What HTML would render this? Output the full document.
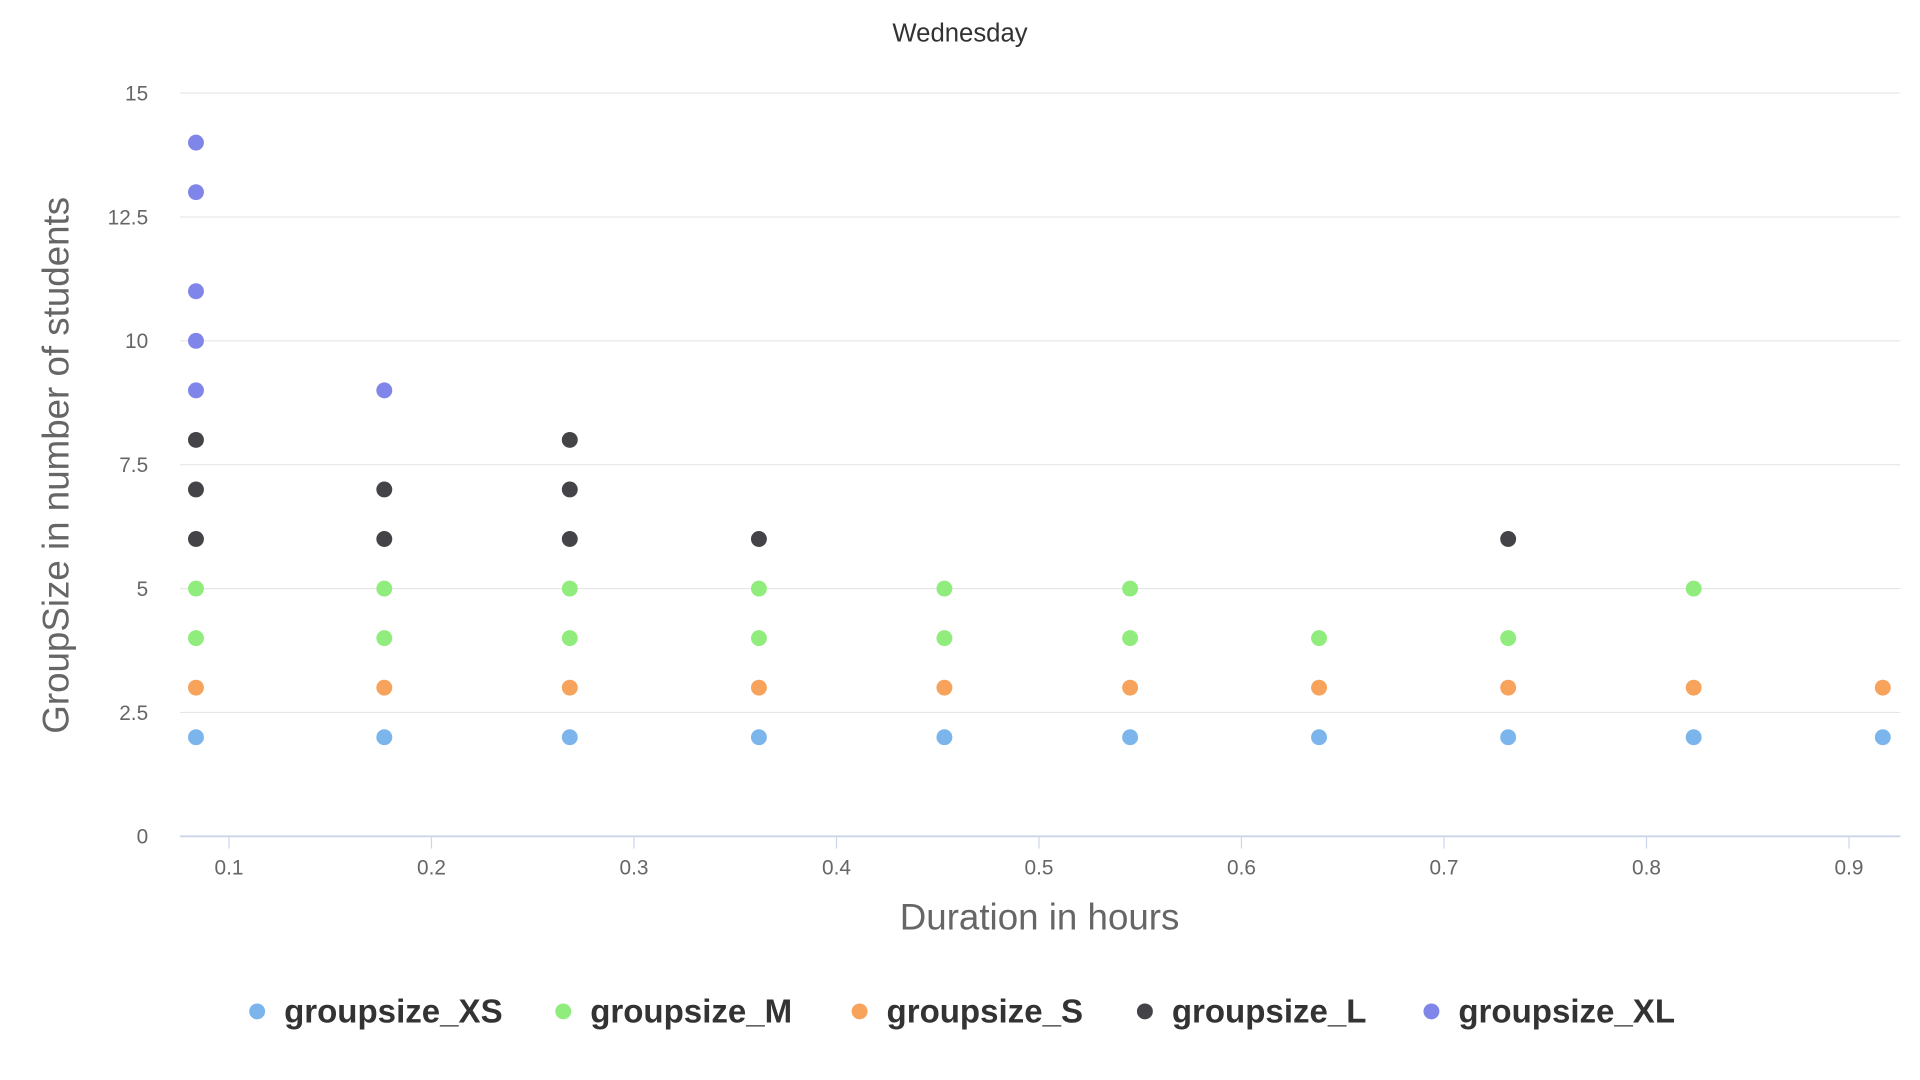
<!DOCTYPE html>
<html><head><meta charset="utf-8"><style>
html,body{margin:0;padding:0;background:#fff;width:1920px;height:1080px;overflow:hidden}
svg{display:block;font-family:"Liberation Sans","DejaVu Sans",sans-serif}
</style></head><body>
<svg id="chart" width="1920" height="1080" viewBox="0 0 1568 882" preserveAspectRatio="none">
<text x="784" y="34" text-anchor="middle" font-size="21" fill="#333">Wednesday</text>
<g id="grid"></g>
<g id="marks"></g>
<text transform="translate(56,380) rotate(-90)" text-anchor="middle" font-size="30" fill="#666">GroupSize in number of students</text>
<text x="849" y="759" text-anchor="middle" font-size="30" fill="#666">Duration in hours</text>
<g id="legend"></g>
</svg>
<script>
const xValues = [0.0837, 0.1767, 0.2683, 0.3617, 0.4533, 0.545, 0.6383, 0.7317, 0.8233, 0.9167];
const seriesNames = ["groupsize_XS","groupsize_M","groupsize_S","groupsize_L","groupsize_XL"];
const seriesColors = ["#7cb5ec","#90ed7d","#f7a35c","#434348","#8085e9"];
const xsPoints = [[0,2],[1,2],[2,2],[3,2],[4,2],[5,2],[6,2],[7,2],[8,2],[9,2]];
const mPoints = [[0,4],[0,5],[1,4],[1,5],[2,4],[2,5],[3,4],[3,5],[4,4],[4,5],[5,4],[5,5],[6,4],[7,4],[8,5]];
const sPoints = [[0,3],[1,3],[2,3],[3,3],[4,3],[5,3],[6,3],[7,3],[8,3],[9,3]];
const lPoints = [[0,6],[0,7],[0,8],[1,6],[1,7],[2,6],[2,7],[2,8],[3,6],[7,6]];
const xlPoints = [[0,9],[0,10],[0,11],[0,13],[0,14],[1,9]];
const yTicks = [0,2.5,5,7.5,10,12.5,15];
const yTickLabels = ["0","2.5","5","7.5","10","12.5","15"];
const xTicks = [0.1,0.2,0.3,0.4,0.5,0.6,0.7,0.8,0.9];
const xTickLabels = ["0.1","0.2","0.3","0.4","0.5","0.6","0.7","0.8","0.9"];

const NS="http://www.w3.org/2000/svg";
const X0=147,X1=1552,Y0=683,Y1=76;
const xScale=v=>187+(v-0.1)*1653.75;
const yScale=v=>Y0-(v/15)*(Y0-Y1);
function mk(tag,attrs,parent){const e=document.createElementNS(NS,tag);for(const k in attrs)e.setAttribute(k,attrs[k]);parent.appendChild(e);return e;}
const grid=document.getElementById('grid');
yTicks.forEach((t,i)=>{
  const y=yScale(t);
  if(t>0){const l=mk('line',{x1:X0,x2:X1,y1:y,y2:y,stroke:'#e6e6e6','stroke-width':1},grid);
  
  }
  const tx=mk('text',{x:121,y:y+6,'text-anchor':'end','font-size':17,fill:'#666'},grid);
  tx.textContent=yTickLabels[i];
  
  
});
const ax=mk('line',{x1:X0,x2:X1,y1:Y0,y2:Y0,stroke:'#ccd6eb','stroke-width':1.5},grid);


xTicks.forEach((t,i)=>{
  const x=xScale(t);
  const tk=mk('line',{x1:x,x2:x,y1:Y0,y2:Y0+10,stroke:'#ccd6eb'},grid);
  
  
  const tx=mk('text',{x:x,y:Y0+31,'text-anchor':'middle','font-size':17,fill:'#666'},grid);
  tx.textContent=xTickLabels[i];
  
  
});
const marks=document.getElementById('marks');
const allSeries=[xsPoints,mPoints,sPoints,lPoints,xlPoints];
allSeries.forEach((pts,si)=>{
  const g=mk('g',{},marks);
  
  
  pts.forEach(p=>{
    const c=mk('circle',{cx:xScale(xValues[p[0]]),cy:yScale(p[1]),r:6.5,fill:seriesColors[si]},g);
    
    
  });
});
const legend=document.getElementById('legend');
const legX=[210,460,702,935,1169];
seriesNames.forEach((n,i)=>{
  const g=mk('g',{style:'cursor:pointer'},legend);
  
  
  mk('circle',{cx:legX[i],cy:826,r:6.5,fill:seriesColors[i]},g);
  const t=mk('text',{x:legX[i]+22,y:835,'font-size':27,'font-weight':'bold',fill:'#333'},g);
  t.textContent=n;
});
</script>
</body></html>
